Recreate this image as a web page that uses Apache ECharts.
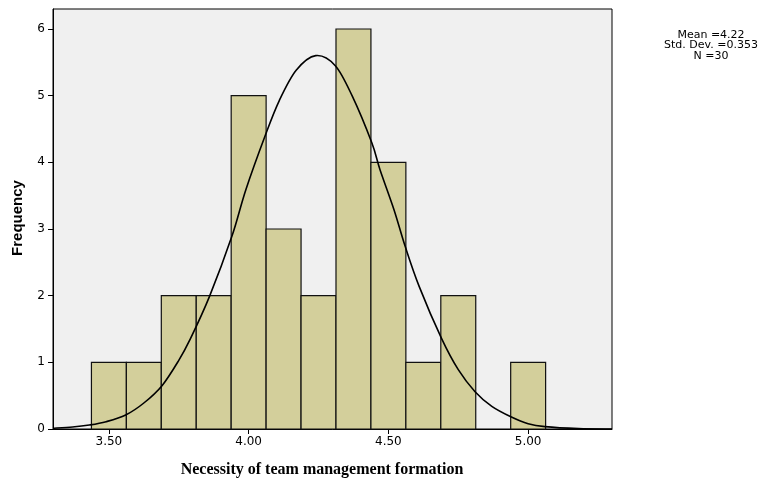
<!DOCTYPE html>
<html>
<head>
<meta charset="utf-8">
<script src="https://cdn.jsdelivr.net/npm/echarts@6/dist/echarts.min.js"></script>
<style>html,body{margin:0;padding:0;background:#fff;}#c{width:766px;height:481px;}</style>
</head>
<body>
<div id="c"></div>
<script>
// Histogram bins (centers) and frequencies
const binCenters = [3.5, 3.625, 3.75, 3.875, 4.0, 4.125, 4.25, 4.375, 4.5, 4.625, 4.75, 4.875, 5.0];
const frequencies = [1, 1, 2, 2, 5, 3, 2, 6, 4, 1, 2, 0, 1];
const binWidth = 0.125;
// Normal curve, points
const curveX = [3.30, 3.37, 3.43, 3.49, 3.56, 3.625, 3.69, 3.75, 3.79, 3.86, 3.94, 3.99, 4.06, 4.11, 4.17, 4.24, 4.31, 4.37, 4.44, 4.47, 4.52, 4.56, 4.61, 4.69, 4.75, 4.81, 4.87, 4.94, 5.00, 5.06, 5.18, 5.30];
const curveY = [0.012, 0.03, 0.06, 0.11, 0.21, 0.39, 0.65, 1.03, 1.34, 1.99, 2.89, 3.59, 4.41, 4.93, 5.38, 5.60, 5.45, 5.00, 4.30, 3.89, 3.29, 2.74, 2.14, 1.36, 0.89, 0.56, 0.34, 0.18, 0.08, 0.035, 0.005, 0.0];
const xTicks = [3.5, 4.0, 4.5, 5.0];
const yTicks = [0, 1, 2, 3, 4, 5, 6];
const statLines = ['Mean =4.22', 'Std. Dev. =0.353', 'N =30'];
const xTitle = 'Necessity of team management formation';
const yTitle = 'Frequency';

const chart = echarts.init(document.getElementById('c'), null, {renderer: 'canvas'});
const barData = binCenters.map((c, i) => [c, frequencies[i]]);
const curveData = curveX.map((x, i) => [x, curveY[i]]);

// Catmull-Rom path through the given pixel points (drawing only)
function splinePath(pts) {
  let d = 'M' + pts[0][0] + ' ' + pts[0][1];
  for (let i = 0; i < pts.length - 1; i++) {
    const p0 = pts[i - 1] || pts[i], p1 = pts[i], p2 = pts[i + 1], p3 = pts[i + 2] || pts[i + 1];
    const c1x = p1[0] + (p2[0] - p0[0]) / 6, c1y = p1[1] + (p2[1] - p0[1]) / 6;
    const c2x = p2[0] - (p3[0] - p1[0]) / 6, c2y = p2[1] - (p3[1] - p1[1]) / 6;
    d += ' C' + c1x + ' ' + c1y + ' ' + c2x + ' ' + c2y + ' ' + p2[0] + ' ' + p2[1];
  }
  return d;
}

chart.setOption({
  animation: false,
  backgroundColor: '#ffffff',
  grid: {
    left: 53, right: 154, top: 9, bottom: 52,
    show: true, backgroundColor: '#f0f0f0', borderColor: '#000', borderWidth: 1
  },
  xAxis: {
    type: 'value', min: 3.3, max: 5.3,
    axisLine: {show: true, lineStyle: {color: '#000', width: 1}},
    axisTick: {show: true, customValues: xTicks, length: 5, lineStyle: {color: '#000'}},
    axisLabel: {
      customValues: xTicks, margin: 7, color: '#000',
      fontFamily: 'DejaVu Sans', fontSize: 12,
      formatter: v => Number(v).toFixed(2)
    },
    splitLine: {show: false}
  },
  yAxis: {
    type: 'value', min: 0, max: 6.3,
    axisLine: {show: true, lineStyle: {color: '#000', width: 1}},
    axisTick: {show: true, customValues: yTicks, length: 5, lineStyle: {color: '#000'}},
    axisLabel: {
      customValues: yTicks, margin: 8, color: '#000',
      fontFamily: 'DejaVu Sans', fontSize: 12
    },
    splitLine: {show: false}
  },
  series: [
    {
      type: 'custom',
      data: barData,
      renderItem: function (params, api) {
        const c = api.value(0), v = api.value(1);
        if (!v) return null;
        const p1 = api.coord([c - binWidth / 2, v]);
        const p2 = api.coord([c + binWidth / 2, 0]);
        return {
          type: 'rect',
          shape: {x: p1[0], y: p1[1], width: p2[0] - p1[0], height: p2[1] - p1[1]},
          style: {fill: '#d3cf9b', stroke: '#111', lineWidth: 1.2}
        };
      },
      z: 2
    },
    {
      type: 'custom',
      data: [curveData[0]],
      renderItem: function (params, api) {
        const pts = curveData.map(p => api.coord(p));
        return {
          type: 'path',
          shape: {pathData: splinePath(pts)},
          style: {fill: null, stroke: '#000', lineWidth: 1.6}
        };
      },
      z: 3
    }
  ],
  graphic: [
    {
      type: 'text', x: 322, y: 470,
      style: {text: xTitle, fill: '#000', font: 'bold 16px "Liberation Serif", serif', align: 'center', verticalAlign: 'middle'}
    },
    {
      type: 'text', x: 18, y: 218, rotation: Math.PI / 2,
      style: {text: yTitle, fill: '#000', font: 'bold 15px "Liberation Sans", sans-serif', align: 'center', verticalAlign: 'middle'}
    },
    ...statLines.map((t, i) => ({
      type: 'text', x: 711, y: 35 + i * 10.5,
      style: {text: t, fill: '#000', font: '11px "DejaVu Sans", sans-serif', align: 'center', verticalAlign: 'middle'}
    }))
  ]
});
</script>
</body>
</html>
